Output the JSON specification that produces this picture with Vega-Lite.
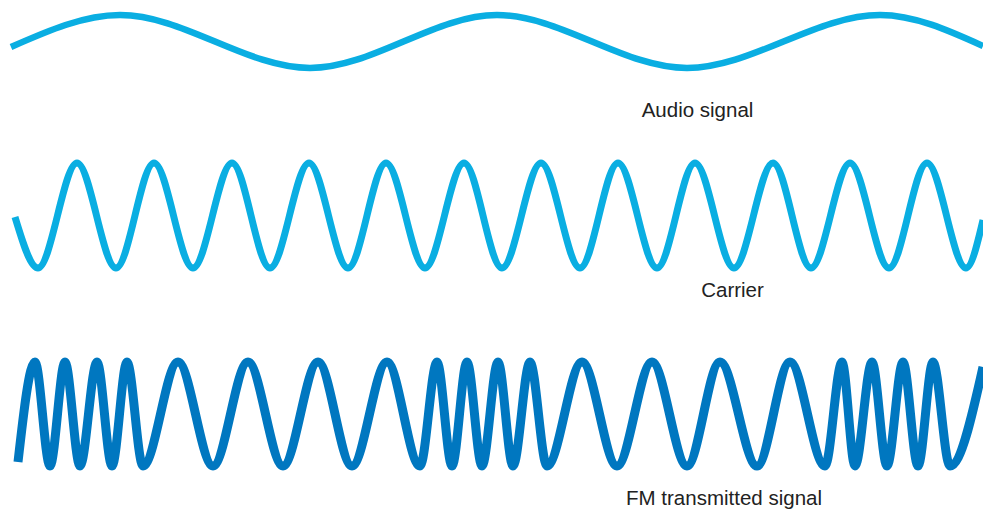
{
  "$schema": "https://vega.github.io/schema/vega-lite/v6.json",
  "autosize": {"type": "none"},
  "width": 983,
  "height": 512,
  "padding": 0,
  "background": "white",
  "config": {"view": {"stroke": null}},
  "datasets": {
    "waves": [
      {"signal": "Audio signal", "t": 11, "level": 465},
      {"signal": "Audio signal", "t": 120, "level": 497},
      {"signal": "Audio signal", "t": 310, "level": 444},
      {"signal": "Audio signal", "t": 497, "level": 497},
      {"signal": "Audio signal", "t": 687, "level": 444},
      {"signal": "Audio signal", "t": 880, "level": 497},
      {"signal": "Audio signal", "t": 983, "level": 466},

      {"signal": "Carrier", "t": 15, "level": 295},
      {"signal": "Carrier", "t": 38, "level": 244},
      {"signal": "Carrier", "t": 77, "level": 349},
      {"signal": "Carrier", "t": 116, "level": 244},
      {"signal": "Carrier", "t": 154, "level": 349},
      {"signal": "Carrier", "t": 193, "level": 244},
      {"signal": "Carrier", "t": 232, "level": 349},
      {"signal": "Carrier", "t": 270, "level": 244},
      {"signal": "Carrier", "t": 309, "level": 349},
      {"signal": "Carrier", "t": 348, "level": 244},
      {"signal": "Carrier", "t": 386, "level": 349},
      {"signal": "Carrier", "t": 425, "level": 244},
      {"signal": "Carrier", "t": 464, "level": 349},
      {"signal": "Carrier", "t": 502, "level": 244},
      {"signal": "Carrier", "t": 541, "level": 349},
      {"signal": "Carrier", "t": 580, "level": 244},
      {"signal": "Carrier", "t": 618, "level": 349},
      {"signal": "Carrier", "t": 657, "level": 244},
      {"signal": "Carrier", "t": 695, "level": 349},
      {"signal": "Carrier", "t": 734, "level": 244},
      {"signal": "Carrier", "t": 773, "level": 349},
      {"signal": "Carrier", "t": 811, "level": 244},
      {"signal": "Carrier", "t": 850, "level": 349},
      {"signal": "Carrier", "t": 889, "level": 244},
      {"signal": "Carrier", "t": 927, "level": 349},
      {"signal": "Carrier", "t": 966, "level": 244},
      {"signal": "Carrier", "t": 983, "level": 292},

      {"signal": "FM transmitted signal", "t": 18, "level": 50},
      {"signal": "FM transmitted signal", "t": 35, "level": 150},
      {"signal": "FM transmitted signal", "t": 50, "level": 46},
      {"signal": "FM transmitted signal", "t": 65, "level": 150},
      {"signal": "FM transmitted signal", "t": 80, "level": 46},
      {"signal": "FM transmitted signal", "t": 97, "level": 150},
      {"signal": "FM transmitted signal", "t": 112, "level": 46},
      {"signal": "FM transmitted signal", "t": 127, "level": 150},
      {"signal": "FM transmitted signal", "t": 143, "level": 46},
      {"signal": "FM transmitted signal", "t": 178, "level": 150},
      {"signal": "FM transmitted signal", "t": 213, "level": 46},
      {"signal": "FM transmitted signal", "t": 248, "level": 150},
      {"signal": "FM transmitted signal", "t": 283, "level": 46},
      {"signal": "FM transmitted signal", "t": 318, "level": 150},
      {"signal": "FM transmitted signal", "t": 352, "level": 46},
      {"signal": "FM transmitted signal", "t": 387, "level": 150},
      {"signal": "FM transmitted signal", "t": 420, "level": 46},
      {"signal": "FM transmitted signal", "t": 437, "level": 150},
      {"signal": "FM transmitted signal", "t": 452, "level": 46},
      {"signal": "FM transmitted signal", "t": 467, "level": 150},
      {"signal": "FM transmitted signal", "t": 482, "level": 46},
      {"signal": "FM transmitted signal", "t": 498, "level": 150},
      {"signal": "FM transmitted signal", "t": 513, "level": 46},
      {"signal": "FM transmitted signal", "t": 530, "level": 150},
      {"signal": "FM transmitted signal", "t": 547, "level": 46},
      {"signal": "FM transmitted signal", "t": 582, "level": 150},
      {"signal": "FM transmitted signal", "t": 617, "level": 46},
      {"signal": "FM transmitted signal", "t": 652, "level": 150},
      {"signal": "FM transmitted signal", "t": 687, "level": 46},
      {"signal": "FM transmitted signal", "t": 720, "level": 150},
      {"signal": "FM transmitted signal", "t": 757, "level": 46},
      {"signal": "FM transmitted signal", "t": 790, "level": 150},
      {"signal": "FM transmitted signal", "t": 825, "level": 46},
      {"signal": "FM transmitted signal", "t": 842, "level": 150},
      {"signal": "FM transmitted signal", "t": 855, "level": 46},
      {"signal": "FM transmitted signal", "t": 872, "level": 150},
      {"signal": "FM transmitted signal", "t": 887, "level": 46},
      {"signal": "FM transmitted signal", "t": 903, "level": 150},
      {"signal": "FM transmitted signal", "t": 918, "level": 46},
      {"signal": "FM transmitted signal", "t": 933, "level": 150},
      {"signal": "FM transmitted signal", "t": 950, "level": 46},
      {"signal": "FM transmitted signal", "t": 983, "level": 145}
    ],
    "labels": [
      {"label": "Audio signal", "t": 697.5, "level": 395},
      {"label": "Carrier", "t": 732.5, "level": 215},
      {"label": "FM transmitted signal", "t": 724, "level": 7}
    ]
  },
  "encoding": {
    "x": {"field": "t", "type": "quantitative", "axis": null, "scale": {"domain": [0, 983], "nice": false, "zero": false}},
    "y": {"field": "level", "type": "quantitative", "axis": null, "scale": {"domain": [0, 512], "nice": false, "zero": false}}
  },
  "layer": [
    {
      "data": {"name": "waves"},
      "transform": [{"filter": "datum.signal === 'Audio signal'"}],
      "mark": {"type": "line", "interpolate": "monotone", "color": "#0aaee2", "strokeWidth": 6.5, "strokeCap": "butt"}
    },
    {
      "data": {"name": "waves"},
      "transform": [{"filter": "datum.signal === 'Carrier'"}],
      "mark": {"type": "line", "interpolate": "monotone", "color": "#0aaee2", "strokeWidth": 7, "strokeCap": "butt"}
    },
    {
      "data": {"name": "waves"},
      "transform": [{"filter": "datum.signal === 'FM transmitted signal'"}],
      "mark": {"type": "line", "interpolate": "monotone", "color": "#0077c0", "strokeWidth": 9, "strokeCap": "butt"}
    },
    {
      "data": {"name": "labels"},
      "mark": {"type": "text", "align": "center", "baseline": "alphabetic", "font": "Liberation Sans", "fontSize": 20.5, "color": "#222222"},
      "encoding": {"text": {"field": "label"}}
    }
  ]
}
